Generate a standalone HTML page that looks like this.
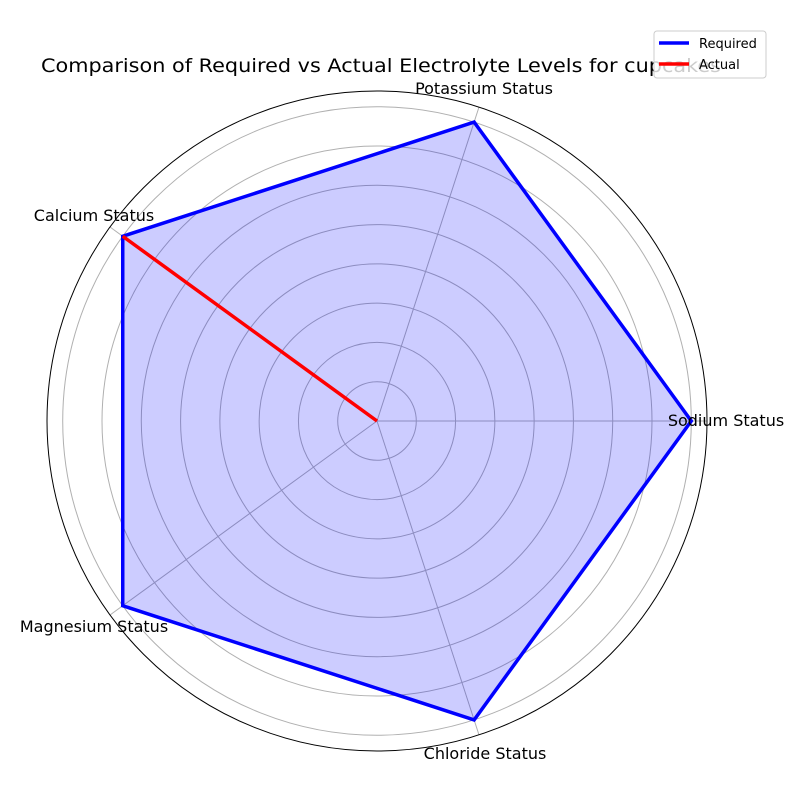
<!DOCTYPE html>
<html><head><meta charset="utf-8"><style>
body{margin:0;background:#fff;}
svg text{font-family:"DejaVu Sans","Liberation Sans",sans-serif;}
</style></head><body>
<svg id="chart" width="800" height="800" viewBox="0 0 800 800">
<rect width="800" height="800" fill="#fff"/>
<g id="grid"></g>
<g id="series"></g>
<g id="labels"></g>
<text x="41" y="72" font-size="19" textLength="680" lengthAdjust="spacingAndGlyphs">Comparison of Required vs Actual Electrolyte Levels for cupcakes</text>
<g>
<rect x="654" y="31" width="112" height="47" rx="3" fill="#fff" fill-opacity="0.8" stroke="#ccc"/>
<line x1="659" y1="43" x2="689" y2="43" stroke="#0000ff" stroke-width="3.5"/>
<text x="699" y="48" font-size="13">Required</text>
<line x1="659" y1="64" x2="689" y2="64" stroke="#ff0000" stroke-width="3.5"/>
<text x="699" y="69" font-size="13">Actual</text>
</g>
</svg>
<script>
const categories=["Sodium Status","Potassium Status","Calcium Status","Magnesium Status","Chloride Status"];
const required=[8,8,8,8,8];
const actual=[0,0,8,0,0];
const rTicks=[1,2,3,4,5,6,7,8];
const rMax=8.4;
const cx=377,cy=421,R=330;
const NS="http://www.w3.org/2000/svg";
function rs(v){return v/rMax*R;}
function ang(i){return i*2*Math.PI/categories.length;}
function pt(i,v){return [cx+rs(v)*Math.cos(ang(i)), cy-rs(v)*Math.sin(ang(i))];}
function mk(t,a,p){const e=document.createElementNS(NS,t);for(const k in a)e.setAttribute(k,a[k]);p.appendChild(e);return e;}
const grid=document.getElementById('grid');
rTicks.forEach(t=>{
 const c=mk('circle',{cx:cx,cy:cy,r:rs(t),fill:'none',stroke:'#b0b0b0','stroke-width':1},grid);
 
 
});
categories.forEach((c,i)=>{
 const p=pt(i,rMax);
 const l=mk('line',{x1:cx,y1:cy,x2:p[0],y2:p[1],stroke:'#b0b0b0','stroke-width':1},grid);
 
 
});
const outer=mk('circle',{cx:cx,cy:cy,r:R,fill:'none',stroke:'#000','stroke-width':1},grid);


const ser=document.getElementById('series');
function poly(vals,color,name){
 const pts=vals.map((v,i)=>pt(i,v).join(',')).join(' ');
 const f=mk('polygon',{points:pts,fill:color,'fill-opacity':0.2,stroke:'none'},ser);
 
 
 const l=mk('polygon',{points:pts,fill:'none',stroke:color,'stroke-width':3.5,'stroke-linejoin':'miter'},ser);
 
 
}
poly(required,'#0000ff','required-series');
poly(actual,'#ff0000','actual-series');
const lab=document.getElementById('labels');
categories.forEach((c,i)=>{
 const p=pt(i,rMax+0.35);
 const cs=Math.cos(ang(i));
 let anchor=Math.abs(cs)<0.35?'middle':(cs>0?'start':'end');
 let x=p[0],y=p[1]+6;
 if(i===0){anchor='middle';x=726;y=426;}
 if(i===2){anchor='middle';x=94;y=221;}
 if(i===3){anchor='middle';x=94;y=632;}
 if(i===1){y=94;x=484;}
 if(i===4){y=759;x=485;}
 const t=mk('text',{x:x,y:y,'font-size':16,'text-anchor':anchor},lab);
 t.textContent=c;
 
 
});
</script>
</body></html>
